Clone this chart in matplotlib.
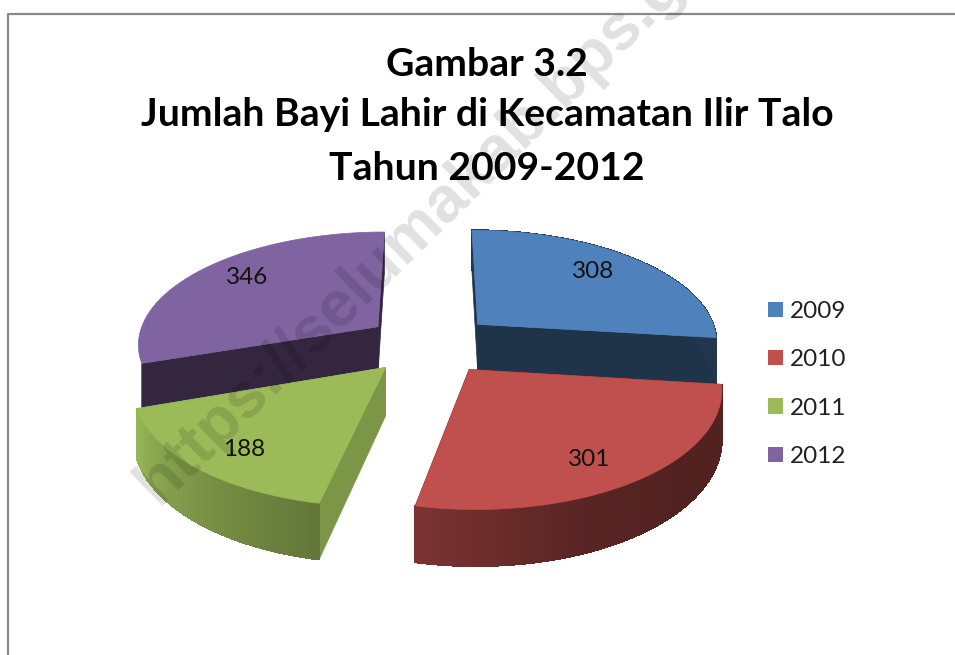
import numpy as np
import matplotlib
matplotlib.use('Agg')
import matplotlib.pyplot as plt
from matplotlib.patches import Polygon, Patch

# data
years = ['2009', '2010', '2011', '2012']
births = [308, 301, 188, 346]
title_lines = ['Gambar 3.2', 'Jumlah Bayi Lahir di Kecamatan Ilir Talo', 'Tahun 2009-2012']

# colours: top face, and the dark cut face of each slice
top_colors = ['#4f81bd', '#c0504d', '#9bbb59', '#8064a2']
cut_colors = ['#1f3349', '#4c1f1d', '#7b9647', '#35263f']
# outer wall brightness against the angle (degrees clockwise from the top)
shade_angle = [90, 130, 160, 192, 222, 252]
shade_value = [0.42, 0.42, 0.47, 0.64, 0.80, 0.98]

# projection settings, all in pixels of the picture
cx, cy = 430, 344
rx, ry = 241.5, 112.5
persp = 0.14
depth = 47
explode = 0.27
label_pos = [(593, 272), (589, 460), (244, 450), (247, 278)]


def project(x, y, z=0.0):
    s = 1 / (1 + persp * y)
    return cx + rx * x * s, cy - ry * y * s + depth * z * s


def shaded(color, f):
    rgb = np.array(matplotlib.colors.to_rgb(color))
    return tuple(rgb * f)


fig = plt.figure(figsize=(9.55, 6.55), dpi=100)
ax = fig.add_axes([0, 0, 1, 1])
ax.set_xlim(0, 955)
ax.set_ylim(655, 0)
ax.axis('off')

# frame of the chart area, runs off the picture at right and bottom
ax.plot([8, 8, 960], [660, 14, 14], color='#8a8a8a', lw=1.6, clip_on=False)

fracs = np.array(births) / sum(births) * 360
ends = np.cumsum(fracs)
starts = ends - fracs

# back slices first so the front ones sit on top of them
for i in [3, 0, 2, 1]:
    a0, a1 = starts[i], ends[i]
    mid = np.radians((a0 + a1) / 2)
    ox, oy = explode * np.sin(mid), explode * np.cos(mid)
    ang = np.radians(np.arange(a0, a1 + 0.5, 1.0))
    wx, wy = ox + np.sin(ang), oy + np.cos(ang)

    # cut faces
    for a in [ang[0], ang[-1]]:
        px, py = ox + np.sin(a), oy + np.cos(a)
        face = [project(ox, oy), project(px, py), project(px, py, 1), project(ox, oy, 1)]
        ax.add_patch(Polygon(face, fc=cut_colors[i], ec=cut_colors[i], lw=0.5, zorder=2))

    # outer wall, one narrow strip per degree for the gradient, front part only
    for j in range(len(ang) - 1):
        if np.degrees(ang[j]) > 251:
            continue
        f = np.interp(np.degrees(ang[j]), shade_angle, shade_value)
        c = shaded(top_colors[i], f)
        quad = [project(wx[j], wy[j]), project(wx[j + 1], wy[j + 1]),
                project(wx[j + 1], wy[j + 1], 1), project(wx[j], wy[j], 1)]
        ax.add_patch(Polygon(quad, fc=c, ec=c, lw=0.6, antialiased=False, zorder=2))

    # top face
    outline = [project(ox, oy)] + [project(a, b) for a, b in zip(wx, wy)]
    ax.add_patch(Polygon(outline, fc=top_colors[i], ec=top_colors[i], lw=0.5, zorder=3))

    ax.text(label_pos[i][0], label_pos[i][1], str(births[i]), ha='center', va='center',
            fontsize=17.5, family='Lato', color='#111111', zorder=4)

# title
for line, y in zip(title_lines, [64, 115, 168]):
    ax.text(487, y, line, ha='center', va='center', fontsize=28.2,
            family='Lato', weight='bold', color='black')

# legend
handles = [Patch(fc=c, ec='none') for c in top_colors]
ax.legend(handles, years, loc='upper left', bbox_to_anchor=(768, 301),
          bbox_transform=ax.transData, frameon=False, borderpad=0, borderaxespad=0,
          handlelength=0.6, handleheight=0.6, handletextpad=0.3,
          labelspacing=1.125, prop={'family': 'Lato', 'size': 17.5}, labelcolor='#222222')

# watermark of the source site
ax.text(158, 506, 'https://selumakab.bps.go.id', rotation=44.5, rotation_mode='anchor',
        ha='left', va='baseline', fontsize=46.5, family='Liberation Sans', weight='bold',
        color='black', alpha=0.12, zorder=10, clip_on=True)

plt.savefig('out.png', dpi=100)
